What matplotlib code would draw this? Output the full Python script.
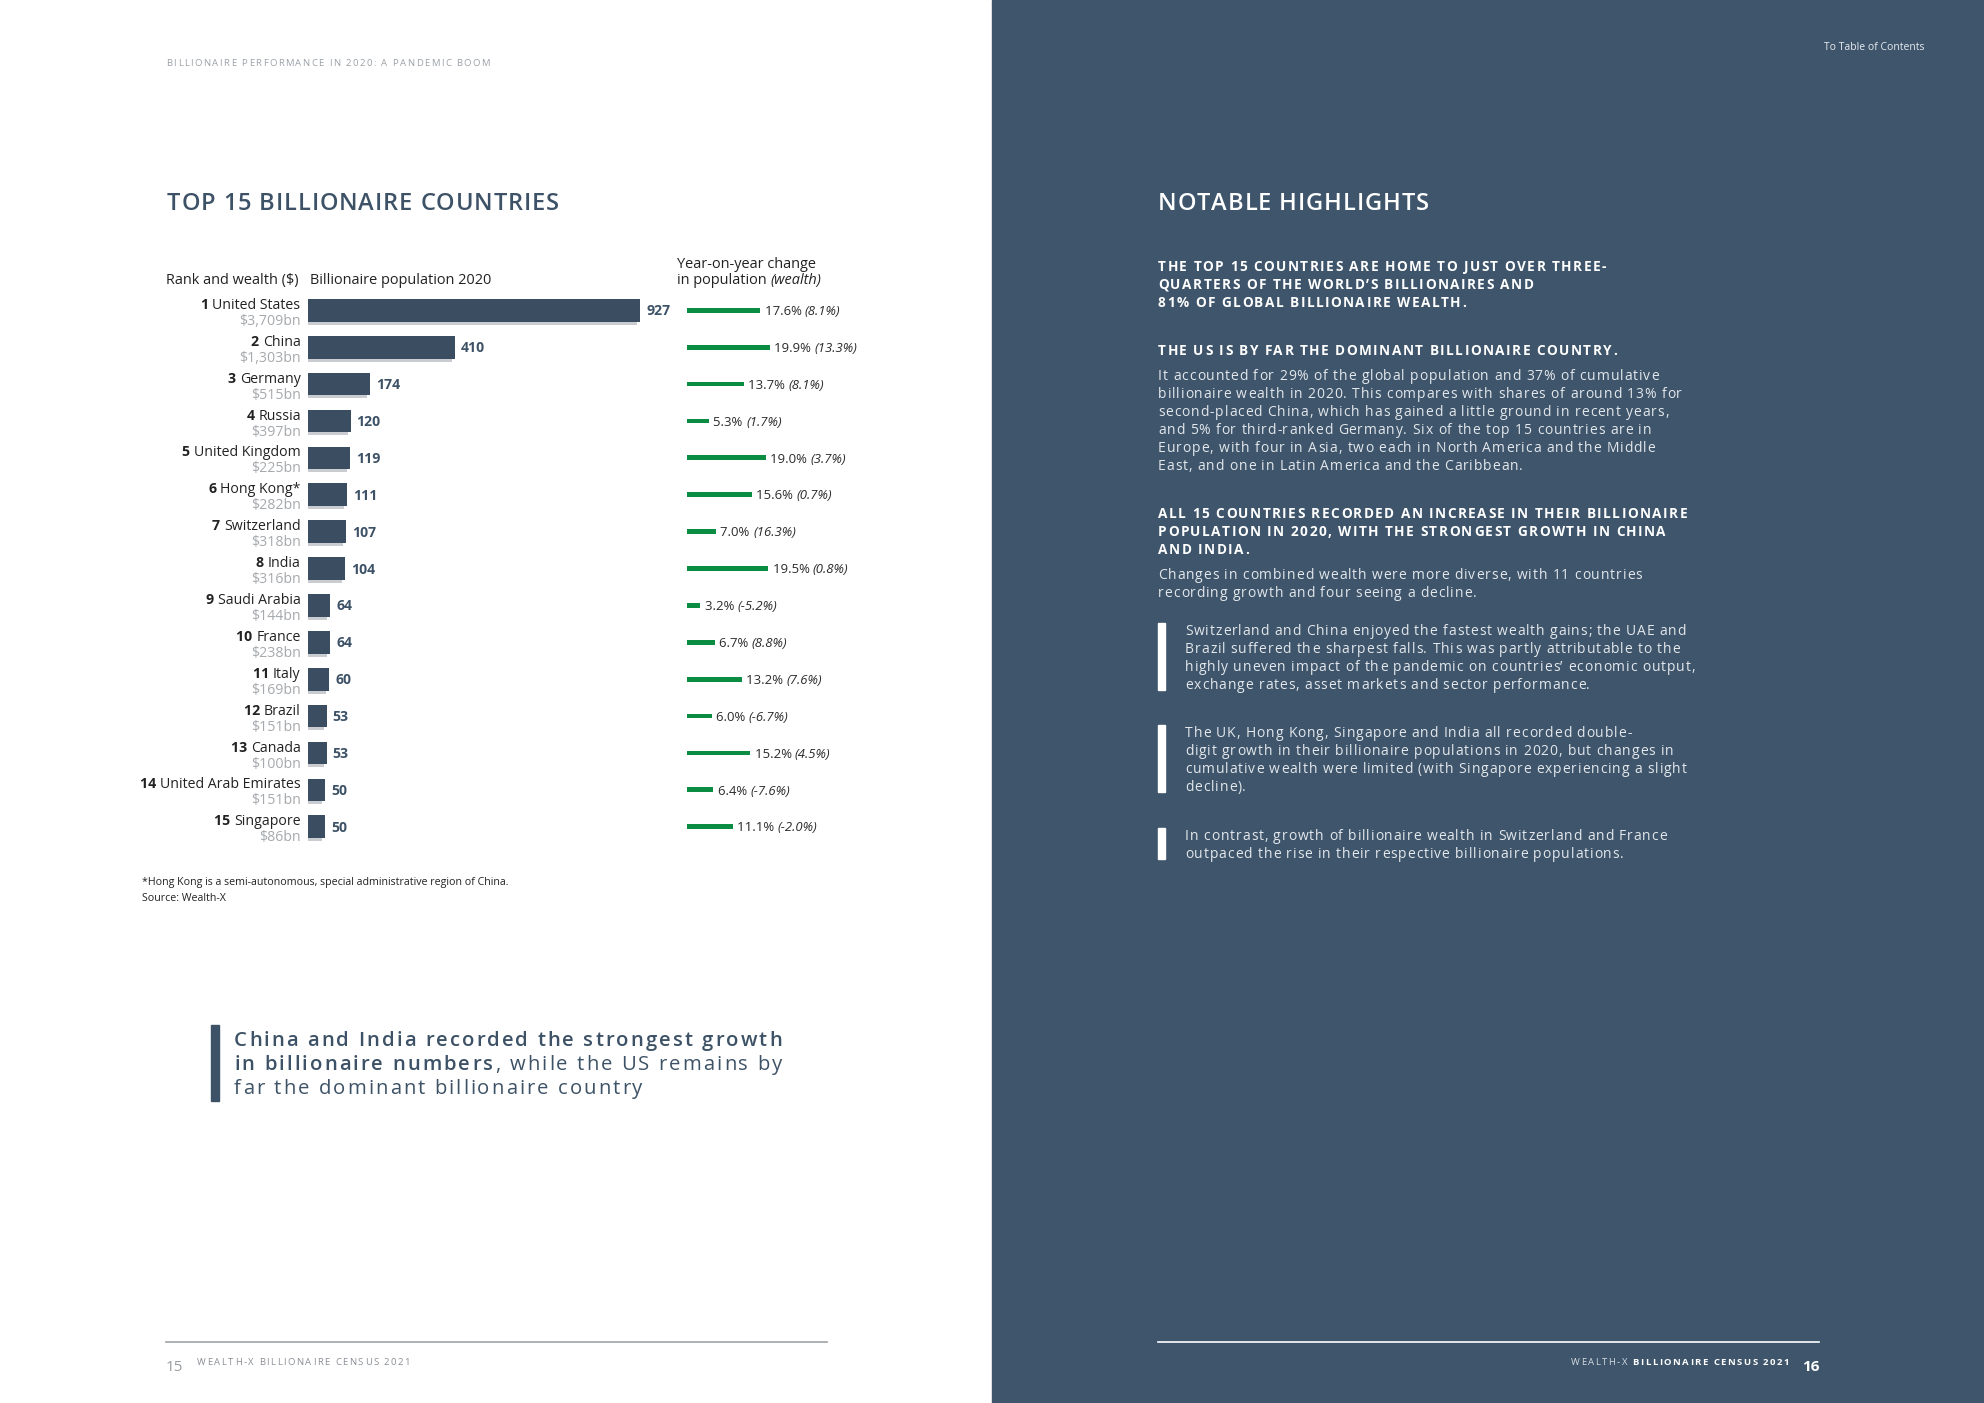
import matplotlib
matplotlib.use('Agg')
import matplotlib.pyplot as plt
from matplotlib.patches import Rectangle
from matplotlib.font_manager import FontProperties, findfont, get_font

FAMILY = 'Open Sans'
plt.rcParams['font.family'] = [FAMILY, 'DejaVu Sans']

# ---- data ----
countries = ['United States', 'China', 'Germany', 'Russia', 'United Kingdom',
             'Hong Kong*', 'Switzerland', 'India', 'Saudi Arabia', 'France',
             'Italy', 'Brazil', 'Canada', 'United Arab Emirates', 'Singapore']
wealth_bn = [3709, 1303, 515, 397, 225, 282, 318, 316, 144, 238, 169, 151, 100, 151, 86]
population = [927, 410, 174, 120, 119, 111, 107, 104, 64, 64, 60, 53, 53, 50, 50]
pop_change = [17.6, 19.9, 13.7, 5.3, 19.0, 15.6, 7.0, 19.5, 3.2, 6.7, 13.2, 6.0, 15.2, 6.4, 11.1]
wealth_change = [8.1, 13.3, 8.1, 1.7, 3.7, 0.7, 16.3, 0.8, -5.2, 8.8, 7.6, -6.7, 4.5, -7.6, -2.0]

SLATE = '#3d5266'
BAR = '#3b4d61'
PANEL = '#3e556b'
GREEN = '#0a8c43'
GREY = '#a6a9ad'
INK = '#222222'
WHITE = '#ffffff'
BODY = '#e3e7eb'

W, H, DPI = 1984, 1403, 100
fig = plt.figure(figsize=(W / DPI, H / DPI), dpi=DPI)
fig.patch.set_facecolor('white')


def px_axes(x0, y0, x1, y1):
    # axes placed in page pixels, origin top-left
    return fig.add_axes([x0 / W, 1 - y1 / H, (x1 - x0) / W, (y1 - y0) / H])


page = px_axes(0, 0, W, H)
page.set_xlim(0, W)
page.set_ylim(H, 0)
page.axis('off')
page.add_patch(Rectangle((992, 0), 992, H, color=PANEL, zorder=0))


# the page uses a wide, letter-spaced face; fake the tracking char by char
def advances(s, size, weight='normal', style='normal'):
    font = get_font(findfont(FontProperties(family=FAMILY, weight=weight, style=style)))
    font.set_size(size, DPI)
    return [font.load_char(ord(c)).linearHoriAdvance / 65536 for c in s]


def tracking(sample, size, target, weight='normal', style='normal'):
    adv = advances(sample, size, weight, style)
    return (target - sum(adv)) / (len(sample) - 1)


def fit(sample, target, weight='normal', style='normal'):
    # font size that gives the sample the wanted width without tracking
    return 10 * target / sum(advances(sample, 10, weight, style))


def write(x, y, parts, size, track=0.0, ha='left', color=INK):
    # parts: str or list of (text, weight, style[, colour]); y = middle of the capitals
    if isinstance(parts, str):
        parts = [(parts, 'normal', 'normal')]
    runs = []
    for p in parts:
        s, wt, st = p[:3]
        col = p[3] if len(p) > 3 else color
        runs.append((s, wt, st, col, advances(s, size, wt, st)))
    n = sum(len(r[0]) for r in runs)
    total = sum(sum(r[4]) for r in runs) + track * (n - 1)
    cx = x - total if ha == 'right' else x
    base = y + 0.357 * size * DPI / 72
    for s, wt, st, col, adv in runs:
        if track == 0:
            page.text(cx, base, s, fontsize=size, fontweight=wt, style=st,
                      color=col, va='baseline', ha='left')
            cx += sum(adv)
            continue
        for c, a in zip(s, adv):
            if c != ' ':
                page.text(cx, base, c, fontsize=size, fontweight=wt, style=st,
                          color=col, va='baseline', ha='left')
            cx += a + track
    return cx


def to_page(axis, x, y):
    return page.transData.inverted().transform(axis.transData.transform((x, y)))


# ---- left page ----
hdr = 'BILLIONAIRE PERFORMANCE IN 2020: A PANDEMIC BOOM'
write(166, 63, hdr, 6.8, tracking(hdr, 6.8, 324), color='#9ba1a8')
tt = tracking('TOP 15 BILLIONAIRE COUNTRIES', 17, 392, 'semibold')
write(167, 202, [('TOP 15 BILLIONAIRE COUNTRIES', 'semibold', 'normal')], 17, tt, color=SLATE)

fh = fit('Rank and wealth ($)', 133)
write(166, 279, 'Rank and wealth ($)', fh)
write(310, 279, 'Billionaire population 2020', fh)
write(677, 263, 'Year-on-year change', fh)
write(677, 279, [('in population ', 'normal', 'normal'), ('(wealth)', 'normal', 'italic')], fh)

# rows: first centre 310, step ~36.9 px
row0, step = 310.3, 36.89
rows = list(range(len(countries)))
top = row0 - step / 2
bottom = row0 + step * (len(countries) - 0.5)

# population bars
px_per_unit = 0.359
ax = px_axes(307.5, top, 307.5 + 360, bottom)
ax.set_xlim(0, 360 / px_per_unit)
ax.set_ylim(len(countries) - 0.5, -0.5)
ax.axis('off')
bh = 22.7 / step
ax.barh([r + 3 / step for r in rows], [p - 2 / px_per_unit for p in population],
        left=-1 / px_per_unit, height=bh, color='#c9cdd2', zorder=1)
ax.barh(rows, population, height=bh, color=BAR, zorder=2)

fn = fit('United Arab Emirates', 140)
fv = fit('927', 24, 'bold')
for r, c, w, p in zip(rows, countries, wealth_bn, population):
    x0, yc = to_page(ax, 0, r)
    xe, _ = to_page(ax, p, r)
    write(x0 - 7, yc - 6.5, [(f'{r + 1} ', 'bold', 'normal'), (c, 'normal', 'normal')],
          fn, ha='right')
    write(x0 - 7, yc + 9.5, f'${w:,}bn', fn, ha='right', color=GREY)
    write(xe + 6, yc, [(str(p), 'bold', 'normal')], fv, color=SLATE)

# year-on-year change bars
px_per_pct = 4.17
gx = px_axes(686.7, top, 686.7 + 24 * px_per_pct, bottom)
gx.set_xlim(0, 24)
gx.set_ylim(len(countries) - 0.5, -0.5)
gx.axis('off')
gx.barh(rows, pop_change, height=4.8 / step, color=GREEN)
fg = fit('17.6% (8.1%)', 77)
for r, pc, wc in zip(rows, pop_change, wealth_change):
    xe, yc = to_page(gx, pc, r)
    write(xe + 4.5, yc, [(f'{pc:.1f}% ', 'normal', 'normal'),
                         (f'({wc:.1f}%)', 'normal', 'italic')], fg, color='#2b2b2b')

note = '*Hong Kong is a semi-autonomous, special administrative region of China.'
ff = fit(note, 366)
write(142, 881, note, ff)
write(142, 897, 'Source: Wealth-X', ff)

# pull quote
page.add_patch(Rectangle((211, 1025), 8, 76, color=SLATE))
tq = tracking('China and India recorded the strongest growth', 14.6, 548, 'semibold')
write(234, 1039, [('China and India recorded the strongest growth', 'semibold', 'normal')],
      14.6, tq, color=SLATE)
write(234, 1063, [('in billionaire numbers', 'semibold', 'normal'),
                  (', while the US remains by', 'normal', 'normal')], 14.6, tq, color=SLATE)
write(234, 1087, 'far the dominant billionaire country', 14.6, tq, color=SLATE)

# footer left
page.plot([166, 827], [1342, 1342], color='#a0a4a8', lw=1.2)
tft = tracking('WEALTH-X BILLIONAIRE CENSUS 2021', 6.8, 213)
write(166, 1366, [('15', 'normal', 'normal')], 11, color='#9a9ea3')
write(197, 1362, 'WEALTH-X BILLIONAIRE CENSUS 2021', 6.8, tft, color='#8a8f96')

# ---- right page ----
write(1824, 46, 'To Table of Contents', fit('To Table of Contents', 100), color='#e8ecf0')
write(1158, 202, [('NOTABLE HIGHLIGHTS', 'semibold', 'normal')], 17, tt, color=WHITE)

ts = tracking('ALL 15 COUNTRIES RECORDED AN INCREASE IN THEIR BILLIONAIRE', 9.8, 529, 'bold')
tb = tracking('billionaire wealth in 2020. This compares with shares of around 13% for', 10, 524)


def head(y, lines):
    for i, s in enumerate(lines):
        write(1158, y + 17.9 * i, [(s, 'bold', 'normal')], 9.8, ts, color=WHITE)


def body(x, y, lines):
    for i, s in enumerate(lines):
        write(x, y + 18 * i, s, 10, tb, color=BODY)


head(266, ['THE TOP 15 COUNTRIES ARE HOME TO JUST OVER THREE-',
           'QUARTERS OF THE WORLD\u2019S BILLIONAIRES AND',
           '81% OF GLOBAL BILLIONAIRE WEALTH.'])
head(350, ['THE US IS BY FAR THE DOMINANT BILLIONAIRE COUNTRY.'])
body(1158, 375, ['It accounted for 29% of the global population and 37% of cumulative',
                 'billionaire wealth in 2020. This compares with shares of around 13% for',
                 'second-placed China, which has gained a little ground in recent years,',
                 'and 5% for third-ranked Germany. Six of the top 15 countries are in',
                 'Europe, with four in Asia, two each in North America and the Middle',
                 'East, and one in Latin America and the Caribbean.'])
head(513, ['ALL 15 COUNTRIES RECORDED AN INCREASE IN THEIR BILLIONAIRE',
           'POPULATION IN 2020, WITH THE STRONGEST GROWTH IN CHINA',
           'AND INDIA.'])
body(1158, 574, ['Changes in combined wealth were more diverse, with 11 countries',
                 'recording growth and four seeing a decline.'])

bullets = [
    (623, ['Switzerland and China enjoyed the fastest wealth gains; the UAE and',
           'Brazil suffered the sharpest falls. This was partly attributable to the',
           'highly uneven impact of the pandemic on countries\u2019 economic output,',
           'exchange rates, asset markets and sector performance.']),
    (725, ['The UK, Hong Kong, Singapore and India all recorded double-',
           'digit growth in their billionaire populations in 2020, but changes in',
           'cumulative wealth were limited (with Singapore experiencing a slight',
           'decline).']),
    (828, ['In contrast, growth of billionaire wealth in Switzerland and France',
           'outpaced the rise in their respective billionaire populations.']),
]
for y0, lines in bullets:
    page.add_patch(Rectangle((1158, y0), 7, 18 * len(lines) - 5, color=WHITE))
    body(1185, y0 + 7.5, lines)

# footer right
page.plot([1158, 1819], [1342, 1342], color=WHITE, lw=1.2)
write(1789, 1362, [('WEALTH-X ', 'normal', 'normal', '#d5dbe1'),
                   ('BILLIONAIRE CENSUS 2021', 'bold', 'normal', WHITE)], 6.8, tft, ha='right')
write(1802, 1366, [('16', 'bold', 'normal')], 11, color=WHITE)

fig.savefig('out.png', dpi=DPI, facecolor=fig.get_facecolor())
